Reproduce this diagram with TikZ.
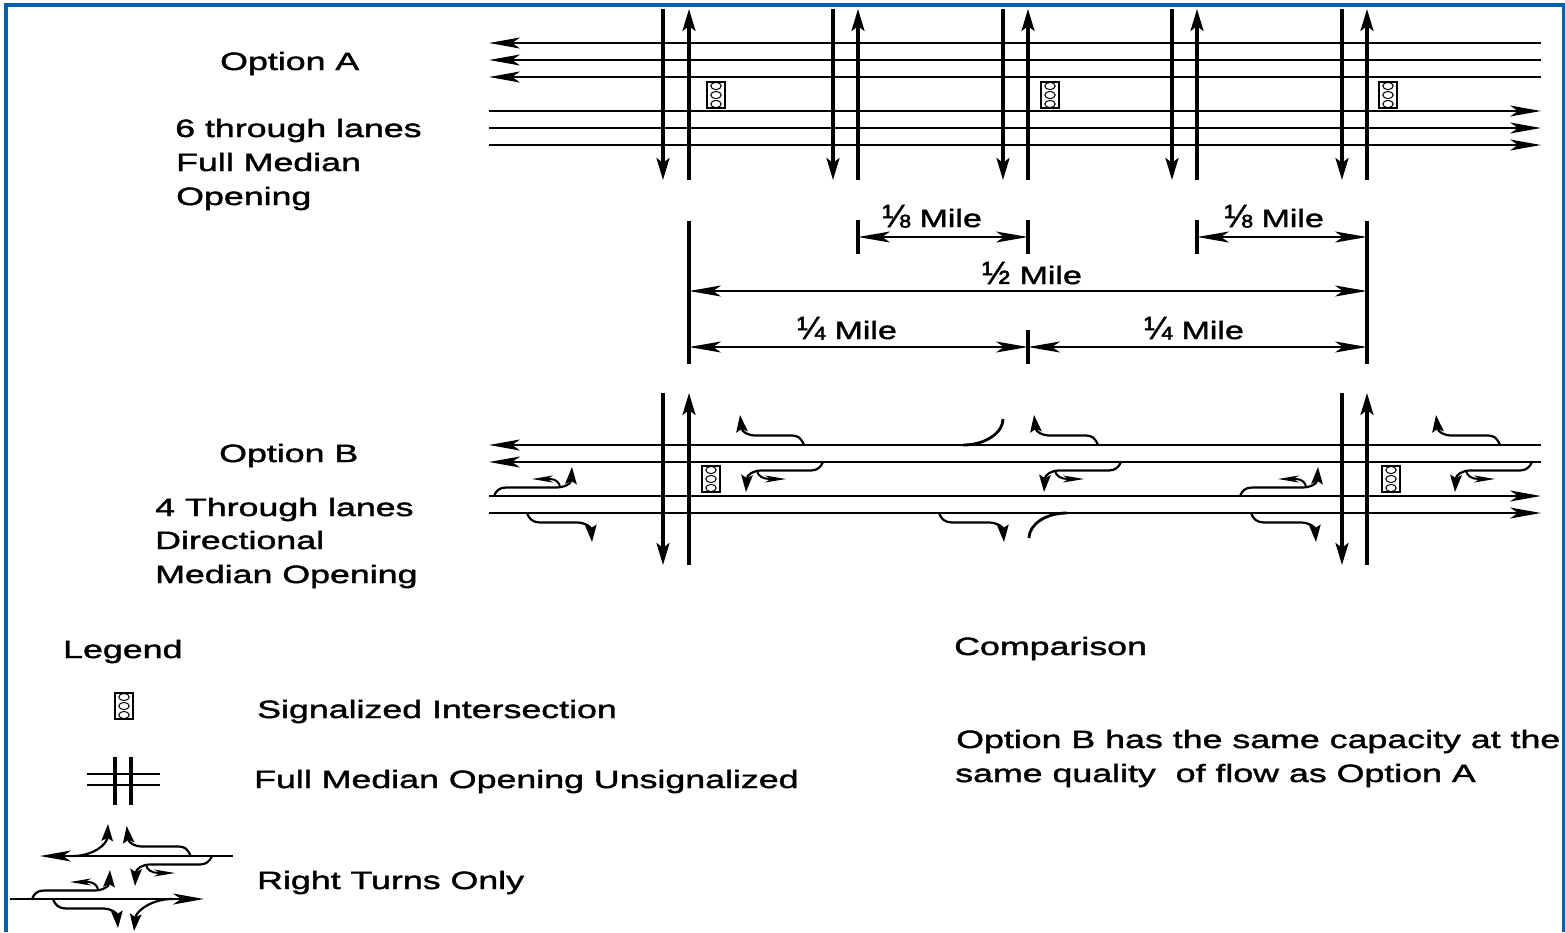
\documentclass[tikz,border=0pt]{standalone}
\usepackage{fontspec}
\setmainfont[FakeStretch=1.43,FakeBold=1.6]{Liberation Sans}
\newfontfamily\milefont[FakeStretch=1.36,FakeBold=1.6]{Liberation Sans}
\newfontfamily\fracfont[FakeStretch=1.05,FakeBold=1.6]{Liberation Sans}
\usetikzlibrary{
  arrows.meta,
  positioning,
  calc
}

\definecolor{framblue}{RGB}{6,96,172}
\newcommand{\fracmile}[1]{{\fontsize{32}{32}\fracfont #1}{\milefont\ Mile}}

\tikzset{
  signalhead/.pic={
    \draw[line width=1.2pt, fill=white] (-9,-13) rectangle (9,13);
    \foreach \k in {-9,0,9} {
      \draw[line width=1pt] (0,\k) ellipse (5.2 and 3.6);
    }
  },
  % right turn leaving the upper edge, heading up
  exitup/.pic={
    \draw[turn] (0,0) .. controls (-3,-7) and (-6,-9.5) .. (-12,-9.5) -- (-48,-9.5)
      .. controls (-56,-9.5) and (-62,-13) .. (-64,-30);
  },
  % left pocket under the westbound lanes, with its small branch
  pocketwest/.pic={
    \draw[turn] (0,0) .. controls (-2,5) and (-6,8.5) .. (-12,8.5) -- (-62,8.5)
      .. controls (-70,8.5) and (-76,13) .. (-77,30);
    \draw[branch] (-66,9) .. controls (-65,14) and (-60,17) .. (-53,17) -- (-37,17);
  },
  % left pocket over the eastbound lanes, with its small branch
  pocketeast/.pic={
    \draw[turn] (0,0) .. controls (2,-5) and (5,-8.5) .. (12,-8.5) -- (62,-8.5)
      .. controls (70,-8.5) and (77,-12) .. (78,-29);
    \draw[branch] (66,-8.5) .. controls (66,-13) and (62,-17) .. (56,-17) -- (38,-17);
  },
  % right turn leaving the lower edge, heading down
  exitdown/.pic={
    \draw[turn] (0,0) .. controls (2,6) and (6,9.5) .. (13,9.5) -- (50,9.5)
      .. controls (58,9.5) and (64,14) .. (65,29);
  },
}

\begin{document}
\begin{tikzpicture}[
  x=1pt, y=-1pt,
  font=\fontsize{25}{30}\selectfont,
  lbl/.style={anchor=base west, inner sep=0pt, xshift=-1pt},
  milelbl/.style={anchor=base, inner sep=0pt},
  thrulane/.style={line width=2.2pt, black},
  westlane/.style={thrulane, {Stealth[length=31pt,width=11pt,inset=8pt]}-},
  eastlane/.style={thrulane, -{Stealth[length=31pt,width=11pt,inset=8pt]}},
  crossdown/.style={line width=3.2pt, -{Stealth[length=22pt,width=13pt,inset=5pt]}},
  crossup/.style={line width=3.2pt, {Stealth[length=22pt,width=13pt,inset=5pt]}-},
  crossplain/.style={line width=3.2pt},
  turn/.style={line width=2.2pt, -{Stealth[length=17pt,width=11.5pt,inset=3pt]}},
  branch/.style={line width=2pt, -{Stealth[length=21pt,width=7pt,inset=6pt]}},
  ramp/.style={line width=2.8pt},
  ticked/.style={line width=3.2pt},
  dimline/.style={line width=2.2pt,
    {Stealth[length=32pt,width=11pt,inset=8pt]}-{Stealth[length=32pt,width=11pt,inset=8pt]}},
]
\useasboundingbox (0,0) rectangle (1565,932);

% Frame (no lower edge in view)
\draw[framblue, line width=4pt] (6,932) -- (6,5.3) -- (1563.5,5.3) -- (1563.5,932);

% Option A
\node[lbl] (optA)   at (221,70)  {Option A};
\node[lbl] (sixlanes) at (176,137) {6 through lanes};
\node[lbl] (fullA)  at (177,171) {Full Median};
\node[lbl] (openA)  at (177,205) {Opening};

\foreach \y in {43,60,77} {
  \draw[westlane] (489,\y) -- (1541,\y);
}
\foreach \y in {111,128,145} {
  \draw[eastlane] (489,\y) -- (1541,\y);
}
\foreach \x in {663,833,1003,1172,1342} {
  \draw[crossdown] (\x,9) -- (\x,180);
}
\foreach \x in {689,858,1028,1197,1367} {
  \draw[crossup] (\x,9) -- (\x,180);
}
\foreach \x in {716,1050,1388} {
  \pic at (\x,95) {signalhead};
}

% Distances
\coordinate (tA) at (689,221);
\coordinate (bA) at (689,364);
\coordinate (tE) at (1367,221);
\coordinate (bE) at (1367,364);
\coordinate (tB) at (858,220);
\coordinate (bB) at (858,254);
\coordinate (tC) at (1028,220);
\coordinate (bC) at (1028,254);
\coordinate (tD) at (1197,220);
\coordinate (bD) at (1197,254);
\coordinate (tM) at (1028,330);
\coordinate (bM) at (1028,364);
\foreach \t/\b in {tA/bA,tB/bB,tC/bC,tD/bD,tE/bE,tM/bM} {
  \draw[ticked] (\t) -- (\b);
}
\draw[dimline] ($(tB)!0.5!(bB)$) -- ($(tC)!0.5!(bC)$);
\draw[dimline] ($(tD)!0.5!(bD)$) -- ($(tE |- bD)!0.5!(tE |- tD)$);
\draw[dimline] (689,291) -- (1367,291);
\draw[dimline] (689,347) -- (1028,347);
\draw[dimline] (1028,347) -- (1367,347);

\node[milelbl] (eighthL) at (932,227)  {\fracmile{⅛}};
\node[milelbl] (eighthR) at (1274,227) {\fracmile{⅛}};
\node[milelbl] (half)    at (1032,284) {\fracmile{½}};
\node[milelbl] (quartL)  at (847,339)  {\fracmile{¼}};
\node[milelbl] (quartR)  at (1194,339) {\fracmile{¼}};

% Option B
\node[lbl] (optB)   at (220,462) {Option B};
\node[lbl] (fourlanes) at (156,516) {4 Through lanes};
\node[lbl] (dirB)   at (156,549) {Directional};
\node[lbl] (openB)  at (156,583) {Median Opening};

\foreach \y in {445,462} {
  \draw[westlane] (489,\y) -- (1541,\y);
}
\foreach \y in {496,513} {
  \draw[eastlane] (489,\y) -- (1541,\y);
}
\foreach \x in {663,1342} {
  \draw[crossdown] (\x,393) -- (\x,565);
}
\foreach \x in {689,1367} {
  \draw[crossup] (\x,393) -- (\x,565);
}
\foreach \x in {711,1391} {
  \pic at (\x,479) {signalhead};
}
\foreach \x in {804,1098,1500} {
  \pic at (\x,445) {exitup};
}
\foreach \x in {823,1121,1532} {
  \pic at (\x,462) {pocketwest};
}
\foreach \x in {494,1240} {
  \pic at (\x,496) {pocketeast};
}
\foreach \x in {527,939,1251} {
  \pic at (\x,513) {exitdown};
}
\draw[ramp] (963,445) .. controls (985,445) and (1003,433) .. (1003,419);
\draw[ramp] (1067,513) .. controls (1045,513) and (1029,525) .. (1029,538);

% Legend
\node[lbl] (legend) at (64,658)  {Legend};
\node[lbl] (lsig)   at (258,718) {Signalized Intersection};
\node[lbl] (lfull)  at (255,788) {Full Median Opening Unsignalized};
\node[lbl] (lturn)  at (258,889) {Right Turns Only};

\pic at (124,706) {signalhead};

\foreach \y in {774,785} {
  \draw[line width=2.2pt] (87,\y) -- (160,\y);
}
\foreach \x in {115,131} {
  \draw[crossplain] (\x,757) -- (\x,805);
}

\draw[westlane] (40,856) -- (233,856);
\draw[eastlane] (10,899) -- (204,899);
\draw[turn] (73,856) .. controls (92,856) and (107,845) .. (108,824);
\pic at (190.7,856) {exitup};
\pic at (212,856) {pocketwest};
\pic at (32,899) {pocketeast};
\pic at (53,899) {exitdown};
\draw[turn] (172,899) .. controls (152,899) and (136,911) .. (134,931);

% Comparison
\node[lbl] (comp)  at (955,655) {Comparison};
\node[lbl] (compa) at (957,748) {Option B has the same capacity at the};
\node[lbl] (compb) at (956,782) {same quality\ \ of flow as Option A};

\end{tikzpicture}
\end{document}
